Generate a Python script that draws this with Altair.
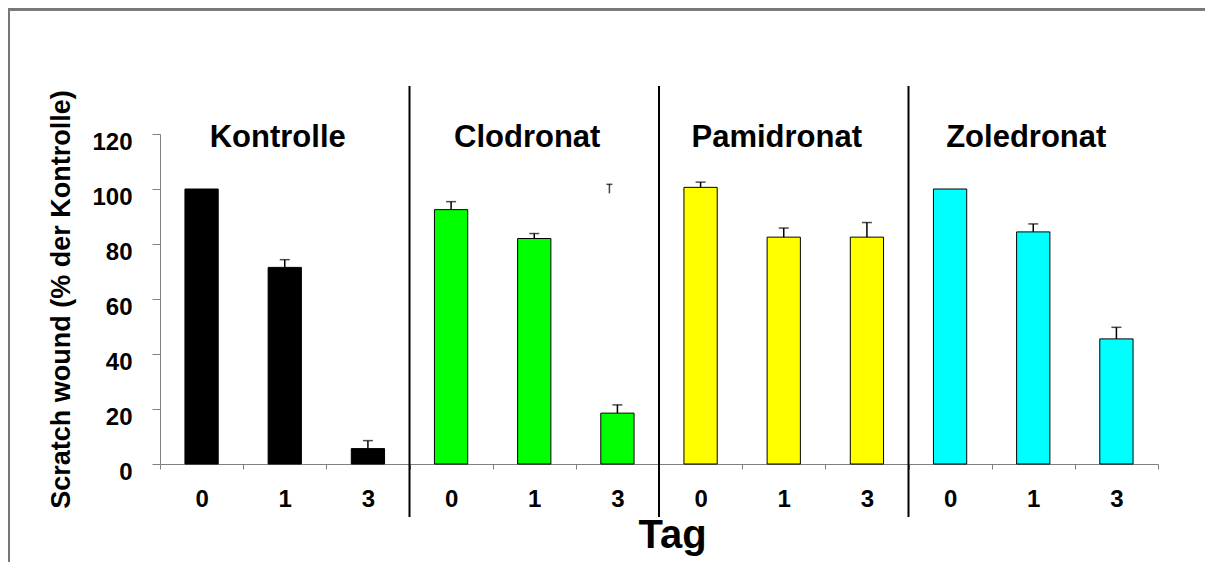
import altair as alt
import pandas as pd

groups = ["Kontrolle", "Clodronat", "Pamidronat", "Zoledronat"]
days = ["0", "1", "3"]
colors = ["#000000", "#00ff00", "#ffff00", "#00ffff"]
values = {
    "Kontrolle": [100, 71.5, 5.6],
    "Clodronat": [92.5, 82.0, 18.5],
    "Pamidronat": [100.6, 82.5, 82.5],
    "Zoledronat": [100, 84.4, 45.5],
}
errors = {
    "Kontrolle": [0, 2.8, 2.9],
    "Clodronat": [2.9, 1.8, 3.0],
    "Pamidronat": [1.9, 3.3, 5.3],
    "Zoledronat": [0, 2.9, 4.2],
}
# stray error-bar glyph visible above the Clodronat day-3 bar
stray_key = ["Clodronat|3"]
stray_low = [98.4]
stray_high = [101.7]

rows = []
for g in groups:
    for i, d in enumerate(days):
        v = values[g][i]
        e = errors[g][i]
        rows.append({"key": f"{g}|{d}", "group": g, "day": d, "value": v,
                     "err": e, "top": v + e})
df = pd.DataFrame(rows)
order = list(df["key"])
df_err = df[df["err"] > 0]
df_stray = pd.DataFrame({"key": stray_key, "low": stray_low, "high": stray_high})
df_div = pd.DataFrame({"key": [f"{g}|0" for g in groups[1:]]})
df_title = pd.DataFrame({"key": [f"{g}|1" for g in groups], "label": groups})

FONT = "Liberation Sans"
W, H = 998, 330

xscale = alt.Scale(domain=order, paddingInner=0, paddingOuter=0)
x = alt.X("key:N", sort=order, scale=xscale,
          axis=alt.Axis(title="Tag", labelExpr="split(datum.label, '|')[1]",
                        labelAngle=0, tickBand="extent", tickSize=5,
                        tickColor="#808080", domainColor="#808080",
                        labelFont=FONT, labelFontSize=24, labelFontWeight="bold",
                        labelColor="#000000", labelPadding=18,
                        titleFont=FONT, titleFontSize=40, titleFontWeight="bold",
                        titleColor="#000000", titlePadding=4, titleX=W / 2 + 13))
yscale = alt.Scale(domain=[0, 120], nice=False)
y = alt.Y("value:Q", scale=yscale,
          axis=alt.Axis(title="Scratch wound (% der Kontrolle)", values=[0, 20, 40, 60, 80, 100, 120],
                        grid=False, tickSize=8, tickColor="#808080", domainColor="#808080",
                        labelFont=FONT, labelFontSize=24, labelFontWeight="bold",
                        labelColor="#000000", labelPadding=20, labelOffset=8,
                        titleFont=FONT, titleFontSize=27, titleFontWeight="bold",
                        titleColor="#000000", titlePadding=16))

bars = alt.Chart(df).mark_bar(width=alt.RelativeBandSize(0.4), stroke="#000000",
                              strokeWidth=1).encode(
    x=x, y=y,
    color=alt.Color("group:N", scale=alt.Scale(domain=groups, range=colors), legend=None),
)

err_rule = alt.Chart(df_err).mark_rule(color="#000000", strokeWidth=1.5).encode(
    x=alt.X("key:N", sort=order, scale=xscale),
    y=alt.Y("value:Q", scale=yscale), y2="top:Q")
err_cap = alt.Chart(df_err).mark_tick(color="#000000", size=10, thickness=1.5,
                                      orient="horizontal").encode(
    x=alt.X("key:N", sort=order, scale=xscale),
    y=alt.Y("top:Q", scale=yscale))

stray_rule = alt.Chart(df_stray).mark_rule(color="#444444", strokeWidth=1.5, xOffset=-8).encode(
    x=alt.X("key:N", sort=order, scale=xscale),
    y=alt.Y("low:Q", scale=yscale), y2="high:Q")
stray_cap = alt.Chart(df_stray).mark_tick(color="#000000", size=6, thickness=1.5,
                                          orient="horizontal", xOffset=-8).encode(
    x=alt.X("key:N", sort=order, scale=xscale),
    y=alt.Y("high:Q", scale=yscale))

dividers = alt.Chart(df_div).mark_rule(color="#000000", strokeWidth=2, clip=False).encode(
    x=alt.X("key:N", sort=order, scale=xscale, bandPosition=0),
    y=alt.datum(137.5, scale=yscale), y2=alt.datum(-19.3))

titles = alt.Chart(df_title).mark_text(font=FONT, fontSize=31, fontWeight="bold",
                                       color="#000000", baseline="middle", align="center",
                                       dx=-7).encode(
    x=alt.X("key:N", sort=order, scale=xscale),
    y=alt.datum(118.4, scale=yscale),
    text="label:N")

frame_top = alt.Chart(df_title).mark_rule(color="#777777", strokeWidth=3).encode(
    x=alt.value(-152), x2=alt.value(W + 47), y=alt.value(-125))
frame_left = alt.Chart(df_title).mark_rule(color="#777777", strokeWidth=2).encode(
    x=alt.value(-151), y=alt.value(-126), y2=alt.value(H + 100))

chart = alt.layer(frame_top, frame_left, bars, err_rule, err_cap, stray_rule, stray_cap,
                  dividers, titles).properties(
    width=W, height=H,
    background="#ffffff",
    autosize=alt.AutoSizeParams(type="none"),
    padding={"left": 152, "top": 126, "right": 47, "bottom": 98},
).configure_view(stroke=None)

chart.save("out.html", embed_options={"renderer": "svg", "actions": False})
